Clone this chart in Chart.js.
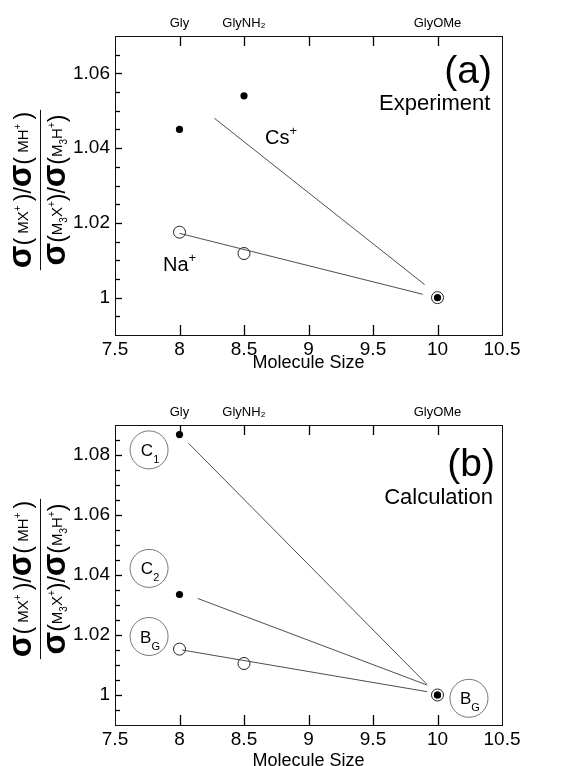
<!DOCTYPE html>
<html>
<head>
<meta charset="utf-8">
<script src="https://cdn.jsdelivr.net/npm/chart.js@4"></script>
<style>
    html, body { margin: 0; padding: 0; background: #fff; }
    #wrap { position: relative; width: 569px; height: 766px; }
    canvas { position: absolute; left: 0; }
    #chart-a { top: 0; }
    #chart-b { top: 380px; }
</style>
</head>
<body>
<div id="wrap">
    <canvas id="chart-a" width="569" height="380"></canvas>
    <canvas id="chart-b" width="569" height="386"></canvas>
</div>
<script>
const FONT = '"Liberation Sans", Arial, Helvetica, sans-serif';

// shared x axis (molecule size)
const xTicks = [7.5, 8, 8.5, 9, 9.5, 10, 10.5];
const moleculeSize = [8, 8.5, 10];
const moleculeNames = ["Gly", "GlyNH\u2082", "GlyOMe"];
const yMinorStep = 0.005;

// (a) experiment
const expYRange = [0.99, 1.07];
const expYLabels = [1, 1.02, 1.04, 1.06];
const expCs = [1.045, 1.054, 1.000];
const expNa = [1.0175, 1.0118, 1.000];
const expCsFitX = [8.27, 9.90];
const expCsFitY = [1.0480, 1.0035];
const expNaFitX = [8.00, 9.885];
const expNaFitY = [1.0172, 1.0009];

// (b) calculation
const calcYRange = [0.99, 1.09];
const calcYLabels = [1, 1.02, 1.04, 1.06, 1.08];
const calcC1 = [1.0868, null, 1.000];
const calcC2 = [1.0335, null, 1.000];
const calcBG = [1.0153, 1.0105, 1.000];
const calcC1FitX = [8.07, 9.915];
const calcC1FitY = [1.0839, 1.0037];
const calcC2FitX = [8.14, 9.92];
const calcC2FitY = [1.0322, 1.0033];
const calcBGFitX = [8.02, 9.92];
const calcBGFitY = [1.0150, 1.0011];

const pts = (xs, ys) => xs.map((x, i) => ({ x: x, y: ys[i] })).filter(p => p.y !== null);

function rich(ctx, segs, x, y, align) {
    const ws = segs.map(s => {
        ctx.font = `${s[3] || ""} ${s[1]}px ${FONT}`;
        return ctx.measureText(s[0]).width;
    });
    const total = ws.reduce((a, b) => a + b, 0);
    let cx = align === "center" ? x - total / 2 : align === "right" ? x - total : x;
    segs.forEach((s, i) => {
        ctx.font = `${s[3] || ""} ${s[1]}px ${FONT}`;
        ctx.fillText(s[0], cx, y + (s[2] || 0));
        cx += ws[i];
    });
    return total;
}

// y title: sigma(MX+)/sigma(MH+) over sigma(M3X+)/sigma(M3H+)
const SIG = 33, PAR = 23, SM = 15, TINY = 10, B = "bold";
const numer = [["σ", SIG, 0, B], ["(", PAR], [" MX", SM, -3], ["+", TINY, -10], [" ", SM], [")", PAR], ["/", PAR],
               ["σ", SIG, 0, B], ["(", PAR], [" MH", SM, -3], ["+", TINY, -10], [" ", SM], [")", PAR]];
const denom = [["σ", SIG, 0, B], ["(", PAR], ["M", SM, -3], ["3", TINY, 2], ["X", SM, -3], ["+", TINY, -10], [")", PAR], ["/", PAR],
               ["σ", SIG, 0, B], ["(", PAR], ["M", SM, -3], ["3", TINY, 2], ["H", SM, -3], ["+", TINY, -10], [")", PAR]];

const panelPlugin = {
    id: "panel",
    afterDraw(chart, _args, opts) {
        const { ctx, chartArea: a, scales } = chart;
        const xs = scales.x, ys = scales.y;
        ctx.save();
        ctx.strokeStyle = "#111";
        ctx.lineWidth = 1;
        ctx.strokeRect(a.left + 0.5, a.top + 0.5, a.right - a.left, a.bottom - a.top);

        // inward ticks, taken from the scales
        ctx.strokeStyle = "#000";
        ctx.lineWidth = 1.3;
        xs.getTicks().forEach(t => {
            const v = t.value;
            if (v <= xTicks[0] || v >= xTicks[xTicks.length - 1]) return;
            const px = Math.round(xs.getPixelForValue(v)) + 0.5;
            ctx.beginPath();
            ctx.moveTo(px, a.bottom);
            ctx.lineTo(px, a.bottom - 10);
            ctx.moveTo(px, a.top);
            ctx.lineTo(px, a.top + 10);
            ctx.stroke();
        });
        ys.getTicks().forEach(t => {
            const v = t.value;
            if (v <= opts.yRange[0] + 1e-9 || v >= opts.yRange[1] - 1e-9) return;
            const py = Math.round(ys.getPixelForValue(v)) + 0.5;
            const major = opts.yLabels.some(l => Math.abs(l - v) < 1e-6);
            ctx.beginPath();
            ctx.moveTo(a.left, py);
            ctx.lineTo(a.left + (major ? 7 : 5), py);
            ctx.stroke();
        });
        ctx.strokeStyle = "#111";
        ctx.lineWidth = 1;

        ctx.fillStyle = "#000";
        ctx.textAlign = "left";
        ctx.textBaseline = "alphabetic";

        // x title
        ctx.font = `18px ${FONT}`;
        ctx.textAlign = "center";
        ctx.fillText("Molecule Size", (a.left + a.right) / 2, opts.titleY);
        ctx.textAlign = "left";

        // y title as a fraction
        const cy = opts.fracY;
        ctx.save(); ctx.translate(31, cy); ctx.rotate(-Math.PI / 2);
        const w1 = rich(ctx, numer, 0, 0, "center");
        ctx.restore();
        ctx.save(); ctx.translate(65, cy); ctx.rotate(-Math.PI / 2);
        const w2 = rich(ctx, denom, 0, 0, "center");
        ctx.restore();
        const half = Math.max(w1, w2) / 2 + 2;
        ctx.beginPath();
        ctx.moveTo(40.5, cy - half); ctx.lineTo(40.5, cy + half);
        ctx.stroke();

        // annotations
        opts.texts.forEach(t => {
            rich(ctx, t.segs, xs.getPixelForValue(t.x), ys.getPixelForValue(t.y), t.align);
        });
        ctx.strokeStyle = "#555";
        ctx.lineWidth = 0.8;
        opts.circles.forEach(c => {
            const px = xs.getPixelForValue(c.x), py = ys.getPixelForValue(c.y);
            ctx.beginPath();
            ctx.arc(px, py, 19, 0, Math.PI * 2);
            ctx.stroke();
            rich(ctx, [[c.main, 17], [c.sub, 11, 7]], px + 1, py + 6, "center");
        });
        ctx.restore();
    }
};

function makePanel(canvas, cfg) {
    const datasets = [];
    cfg.fits.forEach(f => datasets.push({
        data: pts(f[0], f[1]), showLine: true, borderColor: "#3a3a3a", borderWidth: 0.9, pointRadius: 0
    }));
    cfg.open.forEach(ys => datasets.push({
        data: pts(moleculeSize, ys), pointRadius: 6, borderWidth: 1,
        borderColor: "#222", backgroundColor: "rgba(0,0,0,0)"
    }));
    cfg.filled.forEach(ys => datasets.push({
        data: pts(moleculeSize, ys), pointRadius: 3.6, borderWidth: 0,
        borderColor: "#000", backgroundColor: "#000"
    }));

    const noGrid = { display: false, drawTicks: false };
    new Chart(canvas, {
        type: "scatter",
        data: { datasets: datasets },
        options: {
            responsive: false,
            animation: false,
            events: [],
            layout: { padding: { left: 0, right: 67, top: 0, bottom: 0 } },
            plugins: {
                legend: { display: false },
                tooltip: { enabled: false },
                panel: cfg
            },
            scales: {
                x: {
                    type: "linear", position: "bottom", min: 7.5, max: 10.5,
                    grid: noGrid, border: { display: false },
                    afterBuildTicks: s => { s.ticks = xTicks.map(v => ({ value: v })); },
                    afterFit: s => { s.height = cfg.bottomH; },
                    ticks: {
                        autoSkip: false, maxRotation: 0, padding: 3, color: "#000",
                        font: { family: FONT, size: 19 },
                        callback: v => String(v)
                    }
                },
                xTop: {
                    type: "linear", position: "top", min: 7.5, max: 10.5,
                    grid: noGrid, border: { display: false },
                    afterBuildTicks: s => { s.ticks = moleculeSize.map(v => ({ value: v })); },
                    afterFit: s => { s.height = cfg.topH; },
                    ticks: {
                        autoSkip: false, maxRotation: 0, padding: 5, color: "#000",
                        font: { family: FONT, size: 13 },
                        callback: (_v, i) => moleculeNames[i]
                    }
                },
                y: {
                    type: "linear", min: cfg.yRange[0], max: cfg.yRange[1],
                    grid: noGrid, border: { display: false },
                    afterBuildTicks: s => {
                        const n = Math.round((cfg.yRange[1] - cfg.yRange[0]) / yMinorStep);
                        s.ticks = [];
                        for (let i = 0; i <= n; i++) s.ticks.push({ value: cfg.yRange[0] + i * yMinorStep });
                    },
                    afterFit: s => { s.width = 115; },
                    ticks: {
                        autoSkip: false, padding: 5, color: "#000",
                        font: { family: FONT, size: 19 },
                        callback: v => {
                            const hit = cfg.yLabels.find(l => Math.abs(l - v) < 1e-6);
                            return hit === undefined ? "" : String(hit);
                        }
                    }
                }
            }
        },
        plugins: [panelPlugin]
    });
}

makePanel(document.getElementById("chart-a"), {
    yRange: expYRange, yLabels: expYLabels, topH: 36, bottomH: 45, titleY: 368, fracY: 190,
    fits: [[expCsFitX, expCsFitY], [expNaFitX, expNaFitY]],
    open: [expNa],
    filled: [expCs],
    texts: [
        { segs: [["(a)", 39]], x: 10.422, y: 1.0575, align: "right" },
        { segs: [["Experiment", 22]], x: 10.41, y: 1.0503, align: "right" },
        { segs: [["Cs", 20], ["+", 13, -9]], x: 8.663, y: 1.041, align: "left" },
        { segs: [["Na", 20], ["+", 13, -9]], x: 7.872, y: 1.0071, align: "left" }
    ],
    circles: []
});

makePanel(document.getElementById("chart-b"), {
    yRange: calcYRange, yLabels: calcYLabels, topH: 45, bottomH: 41, titleY: 386, fracY: 199,
    fits: [[calcC1FitX, calcC1FitY], [calcC2FitX, calcC2FitY], [calcBGFitX, calcBGFitY]],
    open: [calcBG],
    filled: [calcC1, calcC2],
    texts: [
        { segs: [["(b)", 39]], x: 10.446, y: 1.073, align: "right" },
        { segs: [["Calculation", 22]], x: 10.43, y: 1.0636, align: "right" }
    ],
    circles: [
        { x: 7.764, y: 1.0817, main: "C", sub: "1" },
        { x: 7.764, y: 1.0422, main: "C", sub: "2" },
        { x: 7.764, y: 1.0195, main: "B", sub: "G" },
        { x: 10.244, y: 0.9989, main: "B", sub: "G" }
    ]
});
</script>
</body>
</html>
